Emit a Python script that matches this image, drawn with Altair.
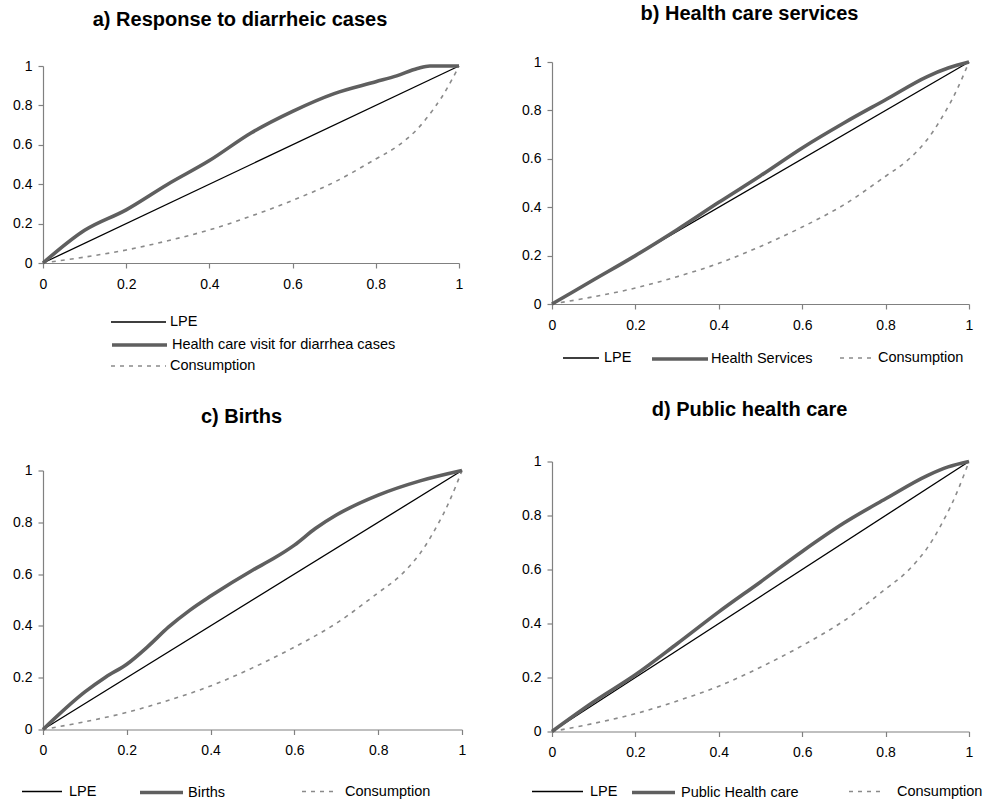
import altair as alt
import pandas as pd

# Concentration curves: cumulative share of population (x) vs cumulative share of the variable (y)
lpe_x = [0.0, 1.0]
lpe_y = [0.0, 1.0]

cons_x = [0.0, 0.1, 0.2, 0.3, 0.4, 0.5, 0.6, 0.7, 0.8, 0.85, 0.9, 0.95, 0.975, 1.0]
cons_y = [0.0, 0.03, 0.066, 0.113, 0.168, 0.238, 0.318, 0.41, 0.528, 0.59, 0.68, 0.815, 0.9, 1.0]

diarrhea_x = [0.0, 0.1, 0.2, 0.3, 0.4, 0.5, 0.6, 0.7, 0.8, 0.85, 0.9, 0.93, 1.0]
diarrhea_y = [0.0, 0.166, 0.27, 0.40, 0.52, 0.66, 0.77, 0.86, 0.92, 0.95, 0.987, 1.0, 1.0]

services_x = [0.0, 0.1, 0.2, 0.3, 0.4, 0.5, 0.6, 0.7, 0.8, 0.9, 0.95, 1.0]
services_y = [0.0, 0.10, 0.20, 0.307, 0.42, 0.53, 0.645, 0.748, 0.844, 0.94, 0.975, 1.0]

births_x = [0.0, 0.1, 0.15, 0.2, 0.25, 0.3, 0.35, 0.4, 0.5, 0.55, 0.6, 0.65, 0.7, 0.8, 0.9, 1.0]
births_y = [0.0, 0.145, 0.203, 0.252, 0.32, 0.396, 0.46, 0.515, 0.615, 0.66, 0.712, 0.776, 0.828, 0.905, 0.96, 1.0]

public_x = [0.0, 0.1, 0.2, 0.3, 0.4, 0.5, 0.6, 0.7, 0.8, 0.9, 0.95, 1.0]
public_y = [0.0, 0.11, 0.21, 0.325, 0.443, 0.554, 0.667, 0.772, 0.862, 0.948, 0.98, 1.0]

tick_values = [0, 0.2, 0.4, 0.6, 0.8, 1]

FONT = "Liberation Sans"
LPE_COLOR = "#000000"
HEALTH_COLOR = "#5f5f5f"
CONS_COLOR = "#8a8a8a"


def frame(xs, ys, name):
    return pd.DataFrame({"x": xs, "y": ys, "series": [name] * len(xs)})


def series_layer(df, name, color, width, dash, interp, leg, h, gap):
    lx, ly, size, loff, pad = leg
    legend = alt.Legend(
        title=None, orient="none", legendX=lx - pad, legendY=ly + gap - pad,
        symbolType="stroke", symbolSize=size, symbolStrokeWidth=width,
        symbolDash=dash if dash else [1, 0], labelOffset=loff, padding=pad,
        labelFont=FONT, labelFontSize=14.5, labelColor="#000000", labelLimit=500,
    )
    mark_kw = dict(strokeWidth=width, interpolate=interp, clip=False)
    if dash:
        mark_kw["strokeDash"] = dash
    return alt.Chart(df).mark_line(**mark_kw).encode(
        x=alt.X("x:Q", scale=alt.Scale(domain=[0, 1], nice=False),
                axis=alt.Axis(values=tick_values, format="~g", title=None)),
        # the value range starts `gap` px below the top of the view
        y=alt.Y("y:Q", scale=alt.Scale(domain=[0, 1], nice=False, range=[h + gap, gap]),
                axis=alt.Axis(values=tick_values, format="~g", title=None)),
        color=alt.Color("series:N", scale=alt.Scale(domain=[name], range=[color]), legend=legend),
    )


def panel(title, hx, hy, hname, w, h, gap, toff, legs, lead=0):
    lpe = series_layer(frame(lpe_x, lpe_y, "LPE"), "LPE", LPE_COLOR, 1.3, None, "linear",
                       legs[0], h, gap)
    health = series_layer(frame(hx, hy, hname), hname, HEALTH_COLOR, 3.6, None, "monotone",
                          legs[1], h, gap)
    cons = series_layer(frame(cons_x, cons_y, "Consumption"), "Consumption", CONS_COLOR, 1.6,
                        [4, 5], "catmull-rom", legs[2], h, gap)
    # an empty leading line of height `lead` lowers the title within its row
    title_kw = dict(font=FONT, fontSize=20, fontWeight="bold", color="#000000",
                    anchor="middle", dx=-11, offset=toff)
    if lead:
        title_params = alt.TitleParams(["", title], lineHeight=lead, **title_kw)
    else:
        title_params = alt.TitleParams(title, **title_kw)
    return alt.layer(lpe, cons, health).resolve_scale(color="independent").properties(
        width=w, height=h + gap, title=title_params,
    )


pa = panel("a) Response to diarrheic cases", diarrhea_x, diarrhea_y,
           "Health care visit for diarrhea cases", 416, 197, 4, 29,
           [(67, 227.5, 3025, 3, 0), (67, 249.5, 3025, 3, 0), (67, 271.5, 3025, 3, 5)])
pb = panel("b) Health care services", services_x, services_y, "Health Services", 417, 242, 0, 31,
           [(10, 277, 1296, 4, 0), (98, 267, 3136, 1, 0), (287, 279, 1024, 5, 0)])
pc = panel("c) Births", births_x, births_y, "Births", 419, 259, 9, 35,
           [(-22, 300, 1600, 6, 0), (95, 298.5, 1849, 3, 0), (258, 302.5, 1225, 7, 0)], lead=6.5)
pd_ = panel("d) Public health care", public_x, public_y, "Public Health care", 417, 270, 0, 34,
            [(-21, 303.5, 2601, 6, 0), (78, 307.5, 1849, 4, 0), (296, 313, 1024, 15, 0)])

# Two columns that stack independently (rows are not aligned across columns)
chart = alt.concat(
    pa, pb, pc, pd_, columns=2,
    align=alt.RowColLayoutAlign(row="none", column="all"),
    spacing=alt.RowColnumber(row=21.5, column=47),
).properties(
    padding={"left": 12, "top": 3, "right": 0, "bottom": 0},
    background="#ffffff",
).configure_view(stroke=None).configure_axis(
    grid=False, domainColor="#808080", tickColor="#808080", tickSize=5,
    labelFont=FONT, labelFontSize=14, labelColor="#000000", labelFlush=False,
    labelOverlap=False, domainWidth=1.2, tickWidth=1.2,
).configure_axisX(labelPadding=9).configure_axisY(labelPadding=6)

chart.save("out.html", embed_options={"renderer": "svg", "actions": False})
